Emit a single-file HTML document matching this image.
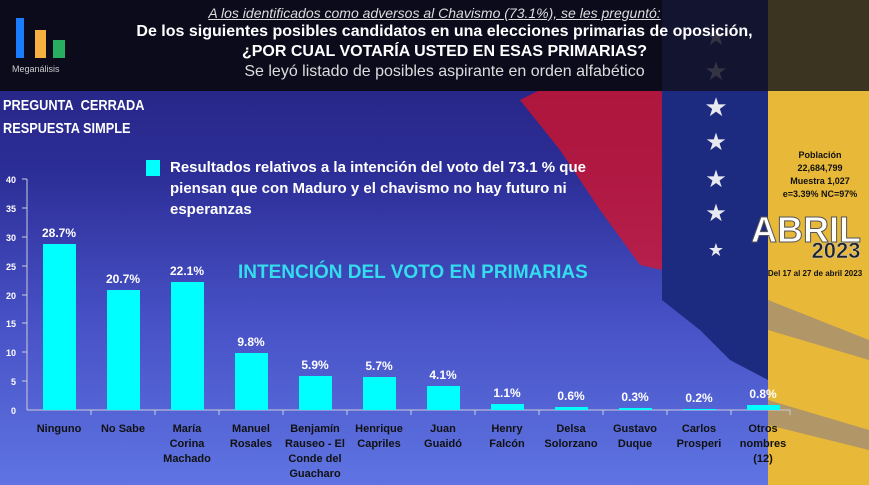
<!DOCTYPE html>
<html><head><meta charset="utf-8"><style>
body{margin:0;width:869px;height:485px;overflow:hidden;font-family:"Liberation Sans",sans-serif;}
#bg{position:absolute;left:0;top:0;width:869px;height:485px;background:linear-gradient(180deg,#23207a 0%,#2c2d96 35%,#4650c4 65%,#5f74e2 100%);}
.t{position:absolute;color:#fff;white-space:nowrap}
</style></head><body>
<div id="bg"></div>
<svg width="869" height="485" style="position:absolute;left:0;top:0">
<polygon points="540,90 662,90 662,270 640,265 600,210 560,150 520,100" fill="#e8101e" opacity="0.7"/>
<polygon points="662,90 768,90 768,380 730,360 700,330 662,300" fill="#1c2a80"/>
<polygon points="768,90 869,90 869,485 768,485" fill="#e8b838"/>
<polygon points="768,300 869,340 869,360 768,330" fill="#4a55c0" opacity="0.35"/>
<polygon points="768,400 869,430 869,450 768,425" fill="#4a55c0" opacity="0.35"/>
<rect x="0" y="0" width="869" height="91" fill="#0b0b1c"/>
<rect x="768" y="0" width="101" height="91" fill="#3a3420"/>
<rect x="662" y="0" width="106" height="91" fill="#121430"/>
<g fill="#e8e8f0"><text x="716" y="116" font-size="26" text-anchor="middle">★</text><text x="716" y="150" font-size="24" text-anchor="middle">★</text><text x="716" y="187" font-size="24" text-anchor="middle">★</text><text x="716" y="221" font-size="24" text-anchor="middle">★</text><text x="716" y="256" font-size="18" text-anchor="middle">★</text></g>
<g fill="#333344"><text x="716" y="45" font-size="26" text-anchor="middle">★</text><text x="716" y="80" font-size="26" text-anchor="middle">★</text></g>
<rect x="16" y="18" width="8" height="40" fill="#1a7cff"/><rect x="35" y="30" width="11" height="28" fill="#f5b041"/><rect x="53" y="40" width="12" height="18" fill="#27ae60"/>
<line x1="27" y1="410" x2="790" y2="410" stroke="#ccd" stroke-width="1"/>
<line x1="27" y1="179" x2="27" y2="410" stroke="#ccd" stroke-width="1"/>
<g stroke="#ccd"><line x1="22" y1="179" x2="27" y2="179"/><line x1="22" y1="208" x2="27" y2="208"/><line x1="22" y1="237" x2="27" y2="237"/><line x1="22" y1="266" x2="27" y2="266"/><line x1="22" y1="295" x2="27" y2="295"/><line x1="22" y1="323" x2="27" y2="323"/><line x1="22" y1="352" x2="27" y2="352"/><line x1="22" y1="381" x2="27" y2="381"/>
<line x1="91" y1="410" x2="91" y2="415"/><line x1="155" y1="410" x2="155" y2="415"/><line x1="219" y1="410" x2="219" y2="415"/><line x1="283" y1="410" x2="283" y2="415"/><line x1="347" y1="410" x2="347" y2="415"/><line x1="411" y1="410" x2="411" y2="415"/><line x1="475" y1="410" x2="475" y2="415"/><line x1="539" y1="410" x2="539" y2="415"/><line x1="603" y1="410" x2="603" y2="415"/><line x1="667" y1="410" x2="667" y2="415"/><line x1="731" y1="410" x2="731" y2="415"/><line x1="790" y1="410" x2="790" y2="415"/></g>
<g fill="#fff" font-size="9" font-weight="bold" text-anchor="end"><text x="16" y="183">40</text><text x="16" y="212">35</text><text x="16" y="241">30</text><text x="16" y="270">25</text><text x="16" y="299">20</text><text x="16" y="327">15</text><text x="16" y="356">10</text><text x="16" y="385">5</text><text x="16" y="414">0</text></g>
<g fill="#00ffff">
<rect x="43" y="244" width="33" height="166"/><rect x="107" y="290" width="33" height="120"/><rect x="171" y="282" width="33" height="128"/><rect x="235" y="353" width="33" height="57"/><rect x="299" y="376" width="33" height="34"/><rect x="363" y="377" width="33" height="33"/><rect x="427" y="386" width="33" height="24"/><rect x="491" y="404" width="33" height="6"/><rect x="555" y="407" width="33" height="3"/><rect x="619" y="408" width="33" height="2"/><rect x="683" y="409" width="33" height="1"/><rect x="747" y="405" width="33" height="5"/>
<rect x="146" y="160" width="14" height="16"/></g>
<g fill="#fff" font-size="12" font-weight="bold" text-anchor="middle"><text x="59" y="237">28.7%</text><text x="123" y="283">20.7%</text><text x="187" y="275">22.1%</text><text x="251" y="346">9.8%</text><text x="315" y="369">5.9%</text><text x="379" y="370">5.7%</text><text x="443" y="379">4.1%</text><text x="507" y="397">1.1%</text><text x="571" y="400">0.6%</text><text x="635" y="401">0.3%</text><text x="699" y="402">0.2%</text><text x="763" y="398">0.8%</text></g>
<g fill="#111" font-size="11" font-weight="bold" text-anchor="middle">
<text x="59" y="432">Ninguno</text><text x="123" y="432">No Sabe</text><text x="187" y="432">María</text><text x="187" y="447">Corina</text><text x="187" y="462">Machado</text>
<text x="251" y="432">Manuel</text><text x="251" y="447">Rosales</text>
<text x="315" y="432">Benjamín</text><text x="315" y="447">Rauseo - El</text><text x="315" y="462">Conde del</text><text x="315" y="477">Guacharo</text>
<text x="379" y="432">Henrique</text><text x="379" y="447">Capriles</text><text x="443" y="432">Juan</text><text x="443" y="447">Guaidó</text>
<text x="507" y="432">Henry</text><text x="507" y="447">Falcón</text><text x="571" y="432">Delsa</text><text x="571" y="447">Solorzano</text>
<text x="635" y="432">Gustavo</text><text x="635" y="447">Duque</text><text x="699" y="432">Carlos</text><text x="699" y="447">Prosperi</text>
<text x="763" y="432">Otros</text><text x="763" y="447">nombres</text><text x="763" y="462">(12)</text></g>
<g fill="#111" font-size="9" font-weight="bold" text-anchor="middle"><text x="820" y="158">Población</text><text x="820" y="171">22,684,799</text><text x="820" y="184">Muestra 1,027</text><text x="820" y="197">e=3.39%  NC=97%</text><text x="815" y="276" font-size="8">Del 17 al 27 de abril 2023</text></g>
<text x="806" y="242" fill="#fff" stroke="#555" stroke-width="1" font-size="36" font-weight="bold" text-anchor="middle">ABRIL</text>
<text x="836" y="258" fill="#222" stroke="#ccc" stroke-width="0.6" font-size="22" font-weight="bold" text-anchor="middle">2023</text>
</svg>
<div class="t" style="left:12px;top:64px;font-size:9px;color:#ccc">Meganálisis</div>
<div class="t" style="left:0;width:869px;text-align:center;top:5px;font-size:14px;font-style:italic;color:#ddd"><span style="text-decoration:underline">A los identificados como adversos al Chavismo (73.1%), se les preguntó:</span></div>
<div class="t" style="left:0;width:869px;padding-left:20px;box-sizing:border-box;text-align:center;top:23px;font-size:16px;font-weight:bold;">De los siguientes posibles candidatos en una elecciones primarias de oposición,</div>
<div class="t" style="left:0;width:869px;padding-left:20px;box-sizing:border-box;text-align:center;top:43px;font-size:16px;font-weight:bold;">¿POR CUAL VOTARÍA USTED EN ESAS PRIMARIAS?</div>
<div class="t" style="left:0;width:869px;padding-left:20px;box-sizing:border-box;text-align:center;top:63px;font-size:16px;color:#ddd">Se leyó listado de posibles aspirante en orden alfabético</div>
<div class="t" style="left:3px;top:97px;font-size:15px;font-weight:bold;transform:scaleX(0.85);transform-origin:left">PREGUNTA&nbsp; CERRADA</div>
<div class="t" style="left:3px;top:120px;font-size:15px;font-weight:bold;transform:scaleX(0.85);transform-origin:left">RESPUESTA SIMPLE</div>
<div class="t" style="left:170px;top:157px;font-size:15px;font-weight:bold;line-height:21px">Resultados relativos a la intención del voto del 73.1 % que<br>piensan que con Maduro y el chavismo no hay futuro ni<br>esperanzas</div>
<div class="t" style="left:238px;top:262px;font-size:19px;font-weight:bold;color:#33ddee">INTENCIÓN DEL VOTO EN PRIMARIAS</div>
</body></html>
